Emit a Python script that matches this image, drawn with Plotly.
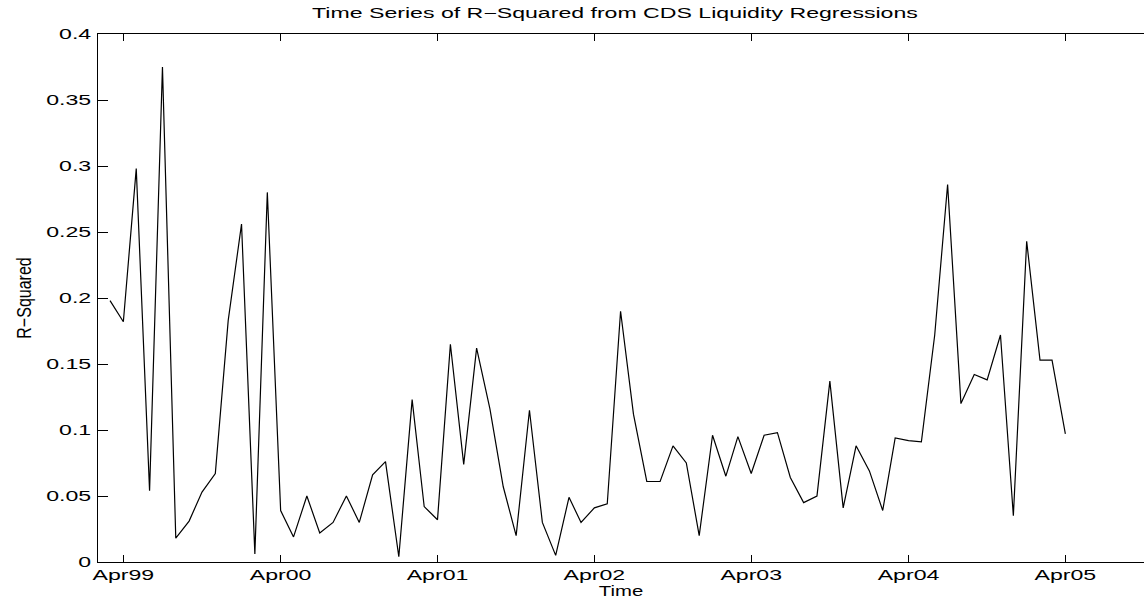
import plotly.graph_objects as go
import pandas as pd

# Monthly R-squared values, March 1999 through April 2005
r_squared = [
    # 1999 (Mar-Dec)
    0.198, 0.182, 0.298, 0.054, 0.375, 0.018, 0.031, 0.053, 0.067, 0.183,
    # 2000
    0.256, 0.006, 0.280, 0.039, 0.019, 0.050, 0.022, 0.030, 0.050, 0.030, 0.066, 0.076,
    # 2001
    0.004, 0.123, 0.042, 0.032, 0.165, 0.074, 0.162, 0.116, 0.057, 0.020, 0.115, 0.030,
    # 2002
    0.005, 0.049, 0.030, 0.041, 0.044, 0.190, 0.112, 0.061, 0.061, 0.088, 0.075, 0.020,
    # 2003
    0.096, 0.065, 0.095, 0.067, 0.096, 0.098, 0.064, 0.045, 0.050, 0.137, 0.041, 0.088,
    # 2004
    0.069, 0.039, 0.094, 0.092, 0.091, 0.172, 0.286, 0.120, 0.142, 0.138, 0.172, 0.035,
    # 2005 (Jan-Apr)
    0.243, 0.153, 0.153, 0.097,
]
dates = pd.date_range("1999-03-01", periods=len(r_squared), freq="MS")

x_tick_dates = ["1999-04-01", "2000-04-01", "2001-04-01", "2002-04-01",
                "2003-04-01", "2004-04-01", "2005-04-01"]
x_tick_labels = ["Apr99", "Apr00", "Apr01", "Apr02", "Apr03", "Apr04", "Apr05"]
y_tick_vals = [0, 0.05, 0.1, 0.15, 0.2, 0.25, 0.3, 0.35, 0.4]
y_tick_labels = ["0", "0.05", "0.1", "0.15", "0.2", "0.25", "0.3", "0.35", "0.4"]

FONT = "Liberation Sans"

fig = go.Figure()
fig.add_trace(go.Scatter(
    x=dates, y=r_squared, mode="lines",
    line=dict(color="black", width=1.2),
    showlegend=False, hoverinfo="x+y",
))

fig.update_layout(
    width=1144, height=604,
    margin=dict(l=98, r=0, t=34, b=42),
    paper_bgcolor="white", plot_bgcolor="white",
    font=dict(family=FONT, size=14, color="black"),
    title=dict(
        text="Time Series of R\u2212Squared from CDS Liquidity Regressions",
        x=0.5376, xanchor="center", y=0.978, yanchor="middle",
        font=dict(family=FONT, size=14, color="black"),
    ),
    xaxis=dict(
        type="date",
        range=["1999-02-01", "2005-10-01"],
        tickmode="array", tickvals=x_tick_dates, ticktext=x_tick_labels,
        ticks="inside", ticklen=7, tickcolor="black", tickwidth=1,
        showline=True, linecolor="black", linewidth=1, mirror="ticks",
        showgrid=False, zeroline=False,
        tickfont=dict(family=FONT, size=14),
        title=dict(text="Time", standoff=0, font=dict(family=FONT, size=14)),
    ),
    yaxis=dict(
        range=[0, 0.4],
        tickmode="array", tickvals=y_tick_vals, ticktext=y_tick_labels,
        ticks="inside", ticklen=10, tickcolor="black", tickwidth=1,
        ticklabelstandoff=3,
        showline=True, linecolor="black", linewidth=1,
        showgrid=False, zeroline=False,
        tickfont=dict(family=FONT, size=14),
        title=dict(text="R\u2212Squared", standoff=26, font=dict(family=FONT, size=20)),
    ),
    yaxis2=dict(
        overlaying="y", side="right", range=[0, 0.4],
        tickmode="array", tickvals=y_tick_vals,
        ticks="inside", ticklen=10, tickcolor="black", tickwidth=1,
        showticklabels=False, showline=False, showgrid=False, zeroline=False,
    ),
)

# Widen the lettering horizontally (wide Helvetica-style labels)
widen_text = """
var gd = document.getElementById('{plot_id}');
gd.querySelectorAll('svg.main-svg text').forEach(function (t) {
    if (!t.textContent) { return; }
    var cls = t.getAttribute('class') || '';
    var f = 1.65;
    if (cls.indexOf('ytitle') >= 0) { f = 0.8; }
    else if (cls.indexOf('xtitle') >= 0) { f = 1.45; }
    var len = t.getComputedTextLength();
    t.setAttribute('textLength', (len * f).toFixed(2));
    t.setAttribute('lengthAdjust', 'spacingAndGlyphs');
});
"""

fig.write_html("out.html", post_script=widen_text)
